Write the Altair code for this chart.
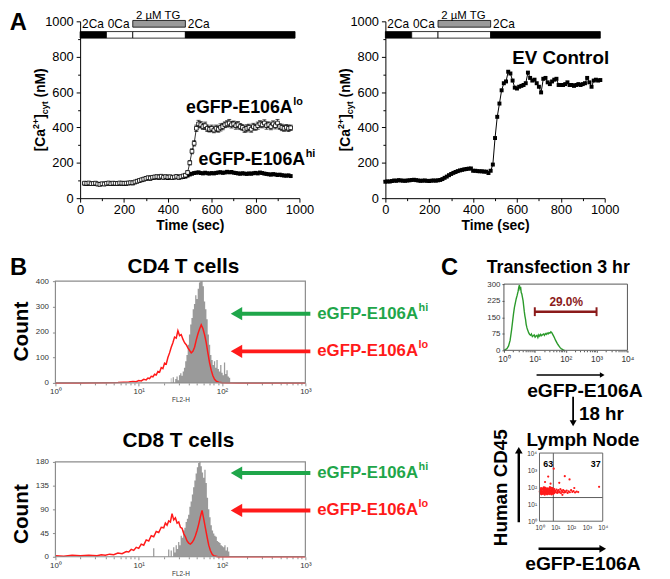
import altair as alt
import pandas as pd

FONT = "Liberation Sans"
H = 571
W = 662
GREEN = "#1fa64a"
RED = "#ff1a1a"
CGREEN = "#2b9a2b"
DARKRED = "#8b1a1a"

# ---------------- Panel A data ----------------
a_time = list(range(20, 961, 10))
lo_vals = [85, 84, 86, 82, 83, 85, 80, 78, 82, 80, 84, 86, 82, 85, 84, 83, 86, 85, 84, 85,
           86, 88, 87,
           92, 96, 100, 104, 108, 112, 116, 114, 118, 120, 122, 120, 124, 118, 122, 119, 121, 117, 120, 123,
           118, 122, 126, 130,
           145, 200, 265, 310, 395, 420, 415, 405, 410, 395, 390, 395, 385, 395, 390, 400, 405, 415, 420, 425,
           415, 420, 410, 415, 405, 400, 390, 395, 400, 390, 405, 400, 410, 420, 415, 425, 410, 415, 405, 420,
           410, 425, 405, 400, 395, 400, 395, 398]
lo_err = [6, 5, 6, 7, 5, 6, 6, 5, 7, 6, 5, 6, 6, 7, 5, 6, 6, 5, 6, 7, 6, 5, 6,
          7, 8, 7, 8, 9, 8, 8, 9, 8, 9, 8, 9, 8, 8, 9, 8, 9, 8, 8, 9, 8, 9, 8, 9,
          10, 12, 14, 15, 18, 20, 18, 16, 20, 18, 16, 18, 15, 18, 17, 20, 18, 16, 18, 20,
          18, 16, 20, 18, 17, 16, 18, 20, 18, 17, 18, 16, 20, 18, 17, 18, 20, 16, 18, 17,
          18, 20, 16, 18, 17, 16, 18, 15]
hi_vals = [82, 80, 83, 80, 81, 82, 79, 78, 80, 79, 82, 83, 80, 82, 81, 80, 83, 82, 81, 82,
           84, 85, 84,
           90, 95, 98, 102, 106, 110, 112, 110, 114, 116, 118, 115, 120, 116, 118, 114, 118, 115, 117, 120,
           116, 118, 120, 122,
           128, 134, 138, 142, 144, 146, 142, 140, 144, 141, 139, 142, 140, 143, 145, 147, 143, 145, 149, 146,
           148, 144, 142, 140, 138, 141, 139, 137, 140, 138, 141, 143, 140, 145, 142, 139, 137, 135, 133, 136,
           134, 131, 133, 130, 128, 127, 129, 125]
ev_time = list(range(0, 981, 10))
ev_vals = [93, 95, 94, 97, 100, 98, 102, 100, 99, 98, 100, 101, 103, 104, 102, 100, 98, 99, 100, 98,
           97, 99, 100, 99, 101,
           103, 108, 115, 122, 130, 137, 143, 148, 153, 157, 160, 163, 165, 167, 168, 155, 155, 153, 152, 152,
           150, 150, 142, 155,
           190, 340, 460, 535, 610, 650, 660, 715, 705, 665, 625, 620, 630, 635, 640, 650, 710, 680, 665, 670,
           650, 630, 598, 675, 680, 655, 645, 660, 670, 675, 640, 640, 640, 645, 655, 640, 640, 635, 640, 645,
           640, 645, 650, 680, 655, 630, 665, 670, 665, 668]
stim_start = [0, 120, 240, 480, 240]
stim_end = [120, 240, 480, 980, 480]
stim_low = [905, 905, 905, 905, 967]
stim_high = [942, 942, 942, 942, 1005]
stim_fill = ["#000000", "#ffffff", "#ffffff", "#000000", "#9a9a9a"]

# ---------------- Panel B data (log10 FL2-H, count) ----------------
cd4_red_log = [0.00, 0.30, 0.60, 0.75, 0.82, 0.88, 0.93, 0.97, 1.00, 1.03,
               1.06, 1.09, 1.11, 1.13, 1.15, 1.17, 1.19, 1.21, 1.23, 1.25,
               1.27, 1.29, 1.31, 1.33, 1.35, 1.37, 1.39, 1.41, 1.43, 1.45,
               1.47, 1.49, 1.51, 1.53, 1.55, 1.57, 1.59, 1.61, 1.63, 1.65,
               1.67, 1.69, 1.71, 1.73, 1.75, 1.77, 1.79, 1.81, 1.83, 1.85,
               1.87, 1.89, 1.91, 1.93, 1.96, 2.00, 2.20, 2.60, 3.00]
cd4_red_cnt = [0, 0, 1, 2, 3, 4, 6, 5, 9, 8,
               14, 12, 19, 17, 26, 24, 34, 31, 45, 42,
               60, 56, 78, 74, 100, 118, 140, 158, 180, 176,
               205, 186, 190, 172, 158, 150, 138, 128, 118, 124,
               140, 168, 192, 212, 228, 214, 190, 158, 118, 80,
               50, 28, 14, 7, 3, 1, 0, 0, 0]
cd4_gray_log = [1.385, 1.400, 1.415, 1.430, 1.445, 1.460, 1.475, 1.490, 1.505, 1.520,
                1.535, 1.550, 1.565, 1.580, 1.595, 1.610, 1.625, 1.640, 1.655, 1.670,
                1.685, 1.700, 1.715, 1.730, 1.745, 1.760, 1.775, 1.790, 1.805, 1.820,
                1.835, 1.850, 1.865, 1.880, 1.895, 1.910, 1.925, 1.940, 1.955, 1.970,
                1.985, 2.000, 2.015, 2.030, 2.045, 2.060, 2.075, 2.090, 2.105]
cd4_gray_cnt = [18, 0, 22, 0, 15, 25, 10, 30, 38, 28,
                45, 60, 85, 110, 150, 190, 230, 255, 290, 310,
                345, 330, 370, 395, 400, 400, 380, 320, 290, 250,
                190, 150, 110, 90, 70, 85, 60, 90, 55, 45,
                70, 40, 30, 80, 35, 50, 25, 20, 0]
cd8_red_log = [0.00, 0.10, 0.20, 0.30, 0.40, 0.50, 0.55, 0.60, 0.65, 0.70,
               0.75, 0.80, 0.85, 0.88, 0.91, 0.94, 0.97, 1.00, 1.03, 1.06,
               1.09, 1.12, 1.15, 1.18, 1.21, 1.24, 1.27, 1.30, 1.32, 1.34,
               1.36, 1.38, 1.40, 1.42, 1.44, 1.46, 1.48, 1.50, 1.52, 1.54,
               1.56, 1.58, 1.60, 1.62, 1.64, 1.66, 1.68, 1.70, 1.72, 1.74,
               1.76, 1.78, 1.80, 1.82, 1.84, 1.86, 1.88, 1.90, 1.95, 2.20,
               3.00]
cd8_red_cnt = [2, 1, 3, 2, 3, 2, 4, 3, 5, 4,
               7, 6, 10, 9, 14, 12, 18, 16, 24, 22,
               32, 30, 40, 38, 48, 46, 56, 55, 64, 60,
               68, 66, 82, 70, 74, 64, 66, 56, 54, 44,
               38, 30, 26, 24, 27, 32, 40, 50, 62, 76,
               88, 72, 55, 38, 22, 12, 5, 2, 0, 0,
               0]
cd8_gray_log = [1.165, 1.180, 1.195, 1.345, 1.360, 1.375, 1.390, 1.405, 1.420, 1.435,
                1.450, 1.465, 1.480, 1.495, 1.510, 1.525, 1.540, 1.555, 1.570, 1.585,
                1.600, 1.615, 1.630, 1.645, 1.660, 1.675, 1.690, 1.705, 1.720, 1.735,
                1.750, 1.765, 1.780, 1.795, 1.810, 1.825, 1.840, 1.855, 1.870, 1.885,
                1.900, 1.915, 1.930, 1.945, 1.960, 1.975, 1.990, 2.005, 2.020, 2.035,
                2.050, 2.065, 2.080, 2.095]
cd8_gray_cnt = [0, 16, 0, 0, 14, 0, 12, 0, 18, 8,
                22, 15, 28, 22, 40, 36, 50, 55, 66, 72,
                80, 95, 105, 118, 132, 145, 158, 170, 178, 180,
                172, 160, 150, 165, 140, 112, 90, 75, 60, 50,
                44, 40, 38, 30, 28, 26, 22, 20, 18, 22,
                12, 18, 10, 0]

# ---------------- Panel C data ----------------
ct_log = [0.00, 0.05, 0.10, 0.15, 0.20, 0.25, 0.28, 0.31, 0.34, 0.37,
          0.40, 0.43, 0.46, 0.48, 0.50, 0.52, 0.54, 0.56, 0.58, 0.60,
          0.62, 0.64, 0.66, 0.68, 0.70, 0.72, 0.74, 0.76, 0.78, 0.80,
          0.83, 0.86, 0.89, 0.92, 0.95, 0.98, 1.01, 1.04, 1.07, 1.10,
          1.13, 1.16, 1.19, 1.22, 1.25, 1.28, 1.31, 1.34, 1.37, 1.40,
          1.43, 1.46, 1.49, 1.52, 1.55, 1.58, 1.61, 1.64, 1.67, 1.70,
          1.73, 1.76, 1.79, 1.82, 1.85, 1.88, 1.92, 1.96]
ct_cnt = [0, 3, 8, 20, 45, 95, 130, 165, 195, 215,
          235, 250, 268, 285, 295, 280, 288, 262, 255, 240,
          225, 200, 175, 155, 140, 118, 105, 95, 88, 80,
          72, 68, 74, 62, 66, 70, 60, 65, 68, 58,
          70, 64, 72, 66, 70, 74, 68, 76, 72, 78,
          74, 80, 78, 84, 80, 72, 64, 56, 46, 38,
          30, 24, 18, 12, 8, 5, 2, 0]
sc_logx = [0.02, 0.05, 0.04, 0.08, 0.10, 0.12, 0.14, 0.15, 0.18, 0.20,
           0.22, 0.24, 0.25, 0.27, 0.29, 0.30, 0.32, 0.33, 0.35, 0.36,
           0.38, 0.40, 0.41, 0.43, 0.45, 0.46, 0.48, 0.50, 0.51, 0.53,
           0.55, 0.56, 0.58, 0.60, 0.61, 0.63, 0.65, 0.66, 0.68, 0.70,
           0.71, 0.73, 0.75, 0.76, 0.78, 0.80, 0.81, 0.83, 0.85, 0.86,
           0.88, 0.90, 0.92, 0.94, 0.96, 0.03, 0.07, 0.11, 0.16, 0.19,
           0.23, 0.26, 0.31, 0.34, 0.37, 0.42, 0.44, 0.47, 0.52, 0.54,
           0.57, 0.62, 0.64, 0.67, 0.72, 0.74, 0.79, 0.84, 0.87, 0.91,
           0.95, 0.06, 0.13, 0.21, 0.28, 0.39, 0.49, 0.59, 0.69, 0.77,
           0.89, 1.00, 1.05, 1.08, 1.12, 1.15, 1.20, 1.24, 1.28, 1.32,
           1.36, 1.40, 1.45, 1.50, 1.55, 1.60, 1.66, 1.72, 1.78, 1.85,
           1.92, 2.00, 2.08, 2.15, 2.25, 2.35, 2.45, 0.90, 0.55, 1.60,
           1.90, 3.77, 1.25, 0.35, 2.20, 0.70, 1.45]
sc_logy = [1.75, 1.62, 1.88, 1.70, 1.95, 1.58, 1.80, 1.66, 1.92, 1.73,
           1.60, 1.85, 1.70, 1.98, 1.64, 1.78, 1.90, 1.56, 1.72, 1.84,
           1.67, 1.95, 1.61, 1.77, 1.88, 1.70, 1.58, 1.82, 1.74, 1.93,
           1.65, 1.79, 1.87, 1.69, 1.59, 1.83, 1.75, 2.00, 1.63, 1.78,
           1.90, 1.68, 1.81, 1.57, 1.73, 1.86, 1.66, 1.94, 1.71, 1.60,
           1.84, 1.76, 1.64, 1.89, 1.72, 1.68, 1.83, 1.77, 1.70, 1.63,
           1.91, 1.81, 1.69, 1.97, 1.76, 1.86, 1.64, 1.79, 1.62, 1.85,
           1.72, 1.77, 1.92, 1.71, 1.62, 1.96, 1.80, 1.78, 1.69, 1.81,
           1.67, 1.79, 1.86, 1.68, 1.74, 1.80, 1.68, 1.81, 1.74, 1.66,
           1.73, 1.78, 1.70, 1.85, 1.66, 1.76, 1.82, 1.69, 1.74, 1.88,
           1.65, 1.79, 1.72, 1.83, 1.68, 1.77, 1.71, 1.80, 1.66, 1.75,
           1.70, 1.82, 1.72, 1.77, 1.69, 1.74, 1.71, 3.08, 2.62, 2.64,
           2.45, 2.02, 2.25, 2.30, 1.95, 2.20, 1.55]

# ---------------- layout: panel domains and pixel ranges ----------------
DOM = {
    "a1": ([0, 1000], [0, 1000], False, False),
    "a2": ([0, 1000], [0, 1000], False, False),
    "b1": ([1, 1000], [0, 400], True, False),
    "b2": ([1, 1000], [0, 180], True, False),
    "c1": ([1, 10000], [0, 300], True, False),
    "c2": ([1, 10000], [1, 10000], True, True),
}
RNG = {
    "a1": ([73, 295], [189, 10]),
    "a2": ([382, 604], [189, 10]),
    "b1": ([48, 301], [376, 273]),
    "b2": ([48, 301], [552, 456]),
    "c1": ([502, 627], [343, 276]),
    "c2": ([538, 602], [516, 447]),
}
POW = ("datum.value < 5 ? '10⁰' : datum.value < 50 ? '10¹' : "
       "datum.value < 500 ? '10²' : datum.value < 5000 ? '10³' : '10⁴'")


def scale(dom, rng, log):
    if log:
        return alt.Scale(type="log", domain=dom, range=rng, nice=False)
    return alt.Scale(type="linear", domain=dom, range=rng, nice=False, zero=False)


def enc(p, x="x", y="y", x2=None, y2=None, xaxis=None, yaxis=None, xtitle=None):
    dx, dy, lx, ly = DOM[p]
    rx, ry = RNG[p]
    e = {"x": alt.X(x, type="quantitative", scale=scale(dx, rx, lx), axis=xaxis, title=xtitle),
         "y": alt.Y(y, type="quantitative", scale=scale(dy, ry, ly), axis=yaxis, title=None)}
    if x2:
        e["x2"] = alt.X2(x2)
    if y2:
        e["y2"] = alt.Y2(y2)
    return e


def ax(orient, offset, values, fs=13, tick=4.0, pad=2.0, labels=True, domain=True, expr=None,
       lcolor="#000000", tcolor="#000000", dcolor="#000000", **kw):
    d = dict(orient=orient, offset=offset, values=values, grid=False, labels=labels,
             domain=domain, domainColor=dcolor, domainWidth=1, ticks=tick > 0,
             labelFont=FONT, labelFontSize=fs, labelColor=lcolor, labelPadding=pad,
             labelFlush=False, labelOverlap=False, labelBound=False, format="d")
    if tick > 0:
        d.update(tickSize=tick, tickColor=tcolor, tickWidth=1)
    if expr:
        d["labelExpr"] = expr
    d.update(kw)
    return alt.Axis(**d)


def axis_layer(p, xaxis, yaxis, xtitle=None):
    dx, dy, _, _ = DOM[p]
    df = pd.DataFrame({"x": [dx[0], dx[1]], "y": [dy[0], dy[1]]})
    return alt.Chart(df).mark_point(opacity=0).encode(**enc(p, xaxis=xaxis, yaxis=yaxis, xtitle=xtitle))


def text(p, x, y, s, size, color="#000000", weight="bold", align="center", baseline="middle",
         angle=0, dx=0, dy=0):
    df = pd.DataFrame({"x": [x], "y": [y]})
    kw = dict(text=s, font=FONT, fontSize=size, fontWeight=weight, color=color, align=align,
              baseline=baseline)
    if angle:
        kw["angle"] = angle
    if dx:
        kw["dx"] = dx
    if dy:
        kw["dy"] = dy
    return alt.Chart(df).mark_text(**kw).encode(**enc(p))


def arrow(p, x1, y1, x2, y2, shape, size, color, width):
    line = alt.Chart(pd.DataFrame({"x": [x1], "xe": [x2], "y": [y1], "ye": [y2]})).mark_rule(
        color=color, strokeWidth=width).encode(**enc(p, x2="xe", y2="ye"))
    head = alt.Chart(pd.DataFrame({"x": [x2], "y": [y2]})).mark_point(
        shape=shape, filled=True, size=size, color=color, opacity=1, strokeWidth=0).encode(**enc(p))
    return [line, head]


def frame(p, color, width=1.0):
    dx, dy, _, _ = DOM[p]
    df = pd.DataFrame({"x": [dx[0]], "xe": [dx[1]], "y": [dy[0]], "ye": [dy[1]]})
    return alt.Chart(df).mark_rect(fill="#ffffff", fillOpacity=0, stroke=color, strokeWidth=width).encode(
        **enc(p, x2="xe", y2="ye"))


L = []

# ================= Panel A =================
df_a1 = pd.DataFrame({"t": a_time, "lo": lo_vals, "hi": hi_vals, "err": lo_err})
df_a1["lo_min"] = df_a1["lo"] - df_a1["err"]
df_a1["lo_max"] = df_a1["lo"] + df_a1["err"]
df_a2 = pd.DataFrame({"t": ev_time, "ev": ev_vals})
df_stim = pd.DataFrame({"x": stim_start, "xe": stim_end, "y": stim_low, "ye": stim_high,
                        "fill": stim_fill})

for p, yoff in (("a1", -73), ("a2", -382)):
    xa = ax("bottom", 189 - H, [0, 200, 400, 600, 800, 1000], fs=13, tick=4, pad=2,
            titleFont=FONT, titleFontSize=14, titleFontWeight="bold", titleColor="#000000",
            titlePadding=2)
    ya = ax("left", yoff, [0, 200, 400, 600, 800, 1000], fs=13, tick=4, pad=3)
    L.append(axis_layer(p, xa, ya, xtitle="Time (sec)"))
    xm = ax("bottom", 189 - H, [100, 300, 500, 700, 900], tick=2.5, labels=False, domain=False)
    ym = ax("left", yoff, [100, 300, 500, 700, 900], tick=2.5, labels=False, domain=False)
    L.append(axis_layer(p, xm, ym))
    L.append(alt.Chart(df_stim).mark_rect(stroke="#000000", strokeWidth=0.8).encode(
        **enc(p, x2="xe", y2="ye"), color=alt.Color("fill:N", scale=None)))
    L.append(text(p, 9, 983, "2Ca", 12, weight="normal", align="left"))
    L.append(text(p, 126, 983, "0Ca", 12, weight="normal", align="left"))
    L.append(text(p, 491, 983, "2Ca", 12, weight="normal", align="left"))
    L.append(text(p, 356, 1030, "2 µM TG", 11.5, weight="normal"))
    # rotated y title: [Ca2+]cyt (nM)
    for s, fs, ddx, ddy in (("[Ca", 14, 0, 0), ("2+", 9, 22.6, -5), ("]", 14, 32.9, 0),
                            ("cyt", 9, 37.6, 4), ("(nM)", 14, 54.5, 0)):
        L.append(text(p, -180, 265, s, fs, align="left", angle=270, dx=ddx, dy=ddy))

# hi series (filled squares)
L.append(alt.Chart(df_a1).mark_line(color="#000000", strokeWidth=1).encode(**enc("a1", "t", "hi")))
L.append(alt.Chart(df_a1).mark_point(shape="square", filled=True, color="#000000", size=16,
                                     opacity=1).encode(**enc("a1", "t", "hi")))
# lo series (open squares with error bars)
L.append(alt.Chart(df_a1).mark_rule(color="#000000", strokeWidth=0.7).encode(
    **enc("a1", "t", "lo_min", y2="lo_max")))
L.append(alt.Chart(df_a1).mark_point(shape="stroke", size=16, color="#000000", strokeWidth=0.7,
                                     opacity=1).encode(**enc("a1", "t", "lo_min")))
L.append(alt.Chart(df_a1).mark_point(shape="stroke", size=16, color="#000000", strokeWidth=0.7,
                                     opacity=1).encode(**enc("a1", "t", "lo_max")))
L.append(alt.Chart(df_a1).mark_line(color="#000000", strokeWidth=0.8).encode(**enc("a1", "t", "lo")))
L.append(alt.Chart(df_a1).mark_point(shape="square", filled=True, fill="#ffffff", stroke="#000000",
                                     strokeWidth=0.8, size=14, opacity=1).encode(**enc("a1", "t", "lo")))
L.append(text("a1", 483, 510, "eGFP-E106A", 18, align="left"))
L.append(text("a1", 483, 510, "lo", 11, align="left", dx=108.5, dy=-6))
L.append(text("a1", 540, 216, "eGFP-E106A", 18, align="left"))
L.append(text("a1", 540, 216, "hi", 11, align="left", dx=108.5, dy=-6))
L.append(text("a1", -282, 992, "A", 24))

# EV control
L.append(alt.Chart(df_a2).mark_line(color="#000000", strokeWidth=1).encode(**enc("a2", "t", "ev")))
L.append(alt.Chart(df_a2).mark_point(shape="square", filled=True, color="#000000", size=16,
                                     opacity=1).encode(**enc("a2", "t", "ev")))
L.append(text("a2", 578, 795, "EV Control", 19, align="left"))

# ================= Panel B =================
minor_b = [m * 10 ** k for k in range(3) for m in range(2, 10)]
panels_b = (
    ("b1", cd4_gray_log, cd4_gray_cnt, cd4_red_log, cd4_red_cnt, [0, 100, 200, 300, 400], 376,
     "CD4 T cells", 34.4, 454, 202, 272, 124),
    ("b2", cd8_gray_log, cd8_gray_cnt, cd8_red_log, cd8_red_cnt, [0, 45, 90, 135, 180], 552,
     "CD8 T cells", 29.9, 219, 81, 159, 88),
)
for (p, glog, gcnt, rlog, rcnt, yvals, ybase, title, tx, ty, cy, gy, ry) in panels_b:
    dfg = pd.DataFrame({"x": [10 ** v for v in glog], "y": gcnt})
    dfr = pd.DataFrame({"x": [10 ** v for v in rlog], "y": rcnt})
    L.append(alt.Chart(dfg).mark_area(interpolate="step", color="#9a9a9a", opacity=1).encode(**enc(p)))
    L.append(alt.Chart(dfr).mark_line(color=RED, strokeWidth=1.5).encode(**enc(p)))
    L.append(frame(p, "#8c8c8c", 1.2))
    xa = ax("bottom", ybase - H, [1, 10, 100, 1000], fs=8, tick=3, pad=2, expr=POW, domain=False,
            lcolor="#333333", tcolor="#8c8c8c", titleFont=FONT, titleFontSize=6.5,
            titleFontWeight="normal", titleColor="#333333", titlePadding=1)
    ya = ax("left", -48, yvals, fs=8, tick=3, pad=4, domain=False, lcolor="#333333", tcolor="#8c8c8c")
    L.append(axis_layer(p, xa, ya, xtitle="FL2-H"))
    xm = ax("bottom", ybase - H, minor_b, tick=2, labels=False, domain=False, tcolor="#8c8c8c")
    L.append(axis_layer(p, xm, None))
    L.append(text(p, tx, ty, title, 21))
    L.append(text(p, 0.40, cy, "Count", 21, angle=270))
    L.extend(arrow(p, 1148, gy, 149, gy, "triangle-left", 180, GREEN, 4))
    L.extend(arrow(p, 1148, ry, 149, ry, "triangle-left", 180, RED, 4))
    L.append(text(p, 1390, gy, "eGFP-E106A", 17, color=GREEN, align="left"))
    L.append(text(p, 1390, gy, "hi", 11, color=GREEN, align="left", dx=102.5, dy=-6))
    L.append(text(p, 1390, ry, "eGFP-E106A", 17, color=RED, align="left"))
    L.append(text(p, 1390, ry, "lo", 11, color=RED, align="left", dx=102.5, dy=-6))
L.append(text("b1", 0.36, 450, "B", 24))

# ================= Panel C (top histogram) =================
df_ct = pd.DataFrame({"x": [10 ** v for v in ct_log], "y": ct_cnt})
L.append(alt.Chart(df_ct).mark_line(color=CGREEN, strokeWidth=1.4).encode(**enc("c1")))
L.append(frame("c1", "#555555", 1))
minor_c = [m * 10 ** k for k in range(4) for m in range(2, 10)]
xa = ax("bottom", 343 - H, [1, 10, 100, 1000, 10000], fs=8.5, tick=2, pad=2, expr=POW, domain=False,
        lcolor="#333333", tcolor="#555555")
ya = ax("left", -502, [0, 75, 150, 225, 300], fs=8, tick=2, pad=2, domain=False,
        lcolor="#333333", tcolor="#555555")
L.append(axis_layer("c1", xa, ya))
L.append(axis_layer("c1", ax("bottom", 343 - H, minor_c, tick=1.5, labels=False, domain=False,
                             tcolor="#555555"), None))
# 29.0% gate bracket
L.append(alt.Chart(pd.DataFrame({"x": [10], "xe": [1000], "y": [175], "ye": [175]})).mark_rule(
    color=DARKRED, strokeWidth=2.5).encode(**enc("c1", x2="xe", y2="ye")))
L.append(alt.Chart(pd.DataFrame({"x": [10, 1000], "xe": [10, 1000], "y": [155, 155], "ye": [195, 195]})
         ).mark_rule(color=DARKRED, strokeWidth=2).encode(**enc("c1", x2="xe", y2="ye")))
L.append(text("c1", 104, 219, "29.0%", 12, color=DARKRED))
L.append(text("c1", 0.0174, 372, "C", 24))
L.append(text("c1", 57.5, 372, "Transfection 3 hr", 18))
L.extend(arrow("c1", 11.4, -112, 1528, -112, "triangle-right", 30, "#000000", 1.3))
L.append(text("c1", 420, -184, "eGFP-E106A", 19.5))
L.extend(arrow("c1", 174, -210, 174, -331, "triangle-down", 50, "#000000", 1.8))
L.append(text("c1", 270, -287, "18 hr", 19, align="left"))

# ================= Panel C (bottom dot plot) =================
df_sc = pd.DataFrame({"x": [10 ** v for v in sc_logx], "y": [10 ** v for v in sc_logy]})
L.append(alt.Chart(pd.DataFrame({"x": [7.5, 1], "xe": [7.5, 10000], "y": [1, 24.5], "ye": [10000, 24.5]})
         ).mark_rule(color="#333333", strokeWidth=0.8).encode(**enc("c2", x2="xe", y2="ye")))
L.append(alt.Chart(df_sc).mark_circle(size=5, color=RED, opacity=1).encode(**enc("c2")))
L.append(frame("c2", "#666666", 1))
xa = ax("bottom", 516 - H, [1, 10, 100, 1000, 10000], fs=6.5, tick=0, pad=3, expr=POW, domain=False,
        lcolor="#333333")
ya = ax("left", -538, [1, 10, 100, 1000, 10000], fs=6.5, tick=0, pad=3, expr=POW, domain=False,
        lcolor="#333333")
L.append(axis_layer("c2", xa, ya))
L.append(text("c2", 3.6, 2240, "63", 9))
L.append(text("c2", 3650, 2240, "37", 9))
L.append(text("c2", 562, 55000, "Lymph Node", 19))
L.append(text("c2", 0.00365, 92, "Human CD45", 19, angle=270))
L.extend(arrow("c2", 0.049, 0.87, 0.049, 14500, "triangle-up", 60, "#000000", 2.5))
L.extend(arrow("c2", 0.87, 0.024, 10000, 0.024, "triangle-right", 60, "#000000", 2.5))
L.append(text("c2", 562, 0.0029, "eGFP-E106A", 19.5))

chart = alt.layer(*L).resolve_scale(x="independent", y="independent").resolve_axis(
    x="independent", y="independent").properties(
    width=W, height=H, padding=0, autosize=alt.AutoSizeParams(type="none"),
    background="#ffffff").configure_view(strokeWidth=0)

chart.save("out.html", embed_options={"renderer": "svg", "actions": False})
